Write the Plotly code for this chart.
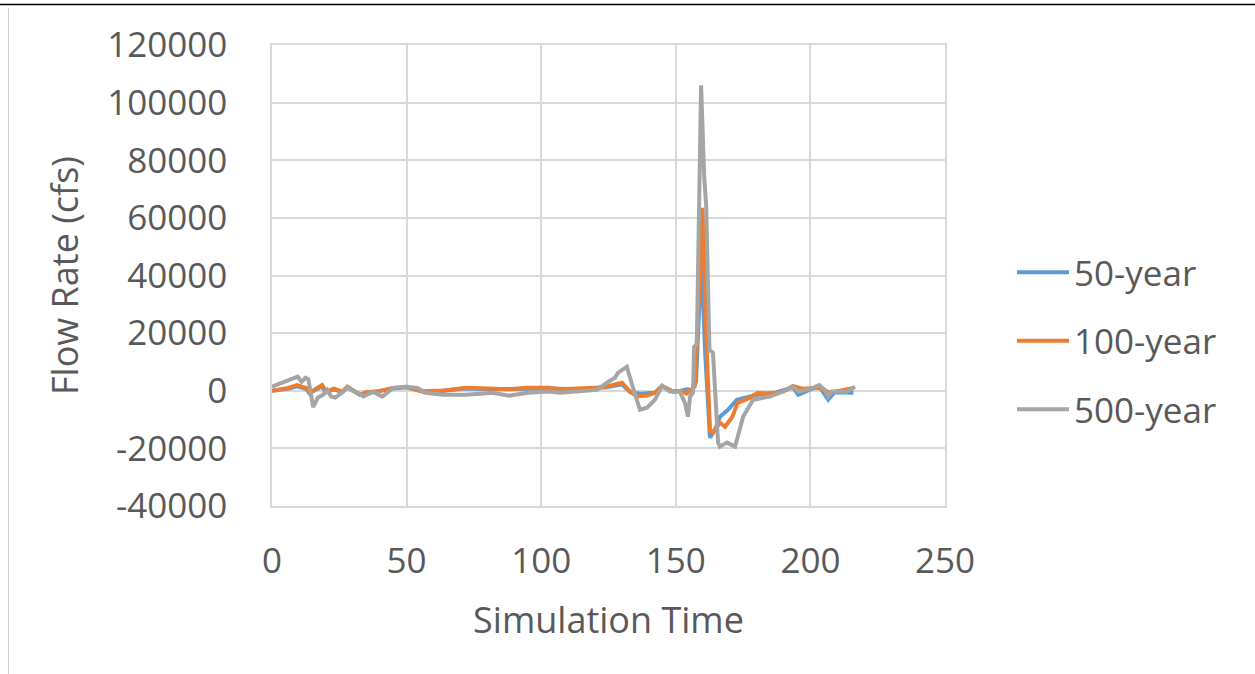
import plotly.graph_objects as go

# ---- data ----
t_50 = [0, 3, 6, 9.3, 12.7, 14, 16, 18.6, 20, 23, 26, 28, 32.7, 38.8, 45, 50, 56, 63.5, 72, 82, 95,
        103, 114, 124.4, 130, 133, 137, 142.3, 144.9, 149, 152, 154, 156, 157.5, 159.5, 160.9,
        162.7, 164.6, 166.4, 169.4, 172.7, 177, 181, 187, 193.5, 195.5, 200, 203.3, 206.6, 209, 216]
q_50 = [0, 300, 700, 1500, 700, -1000, 300, 1500, -600, 500, -500, 1200, -1400, -300, 800, 1200,
        -300, 0, 800, 500, 800, 800, 500, 1200, 2200, -500, -1000, -700, 1500, -300, 0, 500, 300,
        3000, 46000, 13200, -16300, -13500, -9000, -6600, -3100, -2000, -1200, -700, 1200, -1400,
        500, 1500, -3100, -500, -700]

t_100 = [0, 3, 6, 9.3, 12.7, 14, 16, 18.6, 20, 23, 26, 28, 32.7, 35, 38.8, 42, 45, 50, 53, 56, 60,
         63.5, 72, 82, 88, 95, 103, 107, 114, 120, 124.4, 127, 130, 133, 135.6, 139.3, 142.3,
         144.9, 149, 152, 154, 156, 157, 158.5, 159.9, 161.6, 162.7, 163.8, 166.4, 168.3, 171, 173,
         177.6, 180.5, 185, 190, 193.5, 197, 203.3, 207.3, 211, 216]
q_100 = [0, 500, 1000, 2000, 1000, -700, 500, 2000, -300, 700, -300, 1400, -1400, -500, -300, 500,
         1000, 1400, 500, -300, 0, 0, 1000, 700, 500, 1000, 1000, 500, 700, 1000, 1500, 2000, 2800,
         -300, -2000, -1700, -700, 1700, -300, 0, -1000, 500, 1400, 30000, 63500, 11800, -13500,
         -14600, -11100, -12500, -9000, -4200, -2400, -700, -1000, -300, 1700, 700, 1000, -700, 0,
         1000]

t_500 = [0, 3, 6, 9.5, 11, 12.5, 13.5, 15.3, 17, 19, 20.5, 22, 23.5, 26.5, 28, 30, 32, 34, 37.5, 41,
         45, 50, 54, 57, 63.5, 72, 82, 88, 95, 103, 107, 114, 120.7, 124.4, 127.4, 128.5, 131.8,
         134, 136.7, 139.3, 142.3, 144.9, 147.8, 151.5, 153.4, 154.5, 155.3, 156.4, 156.8, 157.8,
         159.4, 160.5, 161.3, 162.5, 163.8, 165.7, 166.4, 169, 172, 173, 175, 178.7, 185, 188.7,
         193.5, 195.5, 200, 203.3, 205.4, 206.6, 208, 213.6, 216.6]
q_500 = [1400, 2500, 3500, 4900, 3100, 4500, 4000, -5700, -2400, -1400, 300, -2000, -2400, -300,
         1400, 0, -700, -2000, -300, -2000, 1000, 1400, 1000, -700, -1400, -1400, -700, -1700, -700,
         -300, -700, -300, 300, 2800, 4500, 6200, 8300, 1400, -6600, -5900, -3100, 1700, -300, -300,
         -4200, -9000, -2000, -700, 15300, 16000, 106000, 75000, 64000, 14200, 13200, -18000,
         -19400, -18000, -19400, -16000, -9000, -3100, -2000, -700, 1400, -300, 700, 2000, 300,
         -2000, -300, -300, 1400]

series = [
    ("50-year", t_50, q_50, "#5b9bd5"),
    ("100-year", t_100, q_100, "#ed7d31"),
    ("500-year", t_500, q_500, "#a5a5a5"),
]

x_ticks = [0, 50, 100, 150, 200, 250]
y_ticks = [-40000, -20000, 0, 20000, 40000, 60000, 80000, 100000, 120000]

FONT = "Open Sans"
TXT = "#595959"
GRID = "#d9d9d9"

fig = go.Figure()
for i, (name, t, q, c) in enumerate(series):
    fig.add_trace(go.Scatter(x=t, y=q, name=name, mode="lines",
                             line=dict(color=c, width=4),
                             legendgroup=f"g{i}"))

W, H = 1255, 674
L, R, T, B = 272, 945, 45, 506

def px_x(p):
    return (p - L) / (R - L)

def px_y(p):
    return (B - p) / (B - T)

fig.update_layout(
    width=W, height=H,
    margin=dict(l=L, r=W - R, t=T, b=H - B),
    paper_bgcolor="white", plot_bgcolor="white",
    font=dict(family=FONT, size=35, color=TXT),
    showlegend=True,
    legend=dict(x=px_x(1012), y=px_y(341), xanchor="left", yanchor="middle",
                font=dict(family=FONT, size=35, color=TXT),
                tracegroupgap=20, itemwidth=52, bgcolor="rgba(0,0,0,0)"),
    xaxis=dict(range=[0, 250], tickvals=x_ticks, ticktext=[str(v) for v in x_ticks],
               showgrid=True, gridcolor=GRID, gridwidth=1.5,
               showline=True, linecolor=GRID, linewidth=1.5, mirror=True,
               zeroline=False, ticks="", ticklabelstandoff=23,
               title=dict(text="Simulation Time", standoff=26,
                          font=dict(family=FONT, size=36, color=TXT))),
    yaxis=dict(range=[-40000, 120000], tickvals=y_ticks, ticktext=[str(v) for v in y_ticks],
               showgrid=True, gridcolor=GRID, gridwidth=1.5,
               showline=True, linecolor=GRID, linewidth=1.5, mirror=True,
               zeroline=False, ticks="", ticklabelstandoff=36,
               title=dict(text="Flow Rate (cfs)", standoff=18,
                          font=dict(family=FONT, size=36, color=TXT))),
    shapes=[
        dict(type="line", xref="paper", yref="paper", x0=px_x(0), x1=px_x(W),
             y0=px_y(4.5), y1=px_y(4.5), line=dict(color="black", width=1.5)),
        dict(type="line", xref="paper", yref="paper", x0=px_x(8.5), x1=px_x(8.5),
             y0=px_y(8), y1=px_y(H), line=dict(color="#d0d0d0", width=1)),
    ],
)

fig.write_html("out.html", config={"displayModeBar": False},
               post_script="document.body.style.margin='0';document.body.style.overflow='hidden';")
